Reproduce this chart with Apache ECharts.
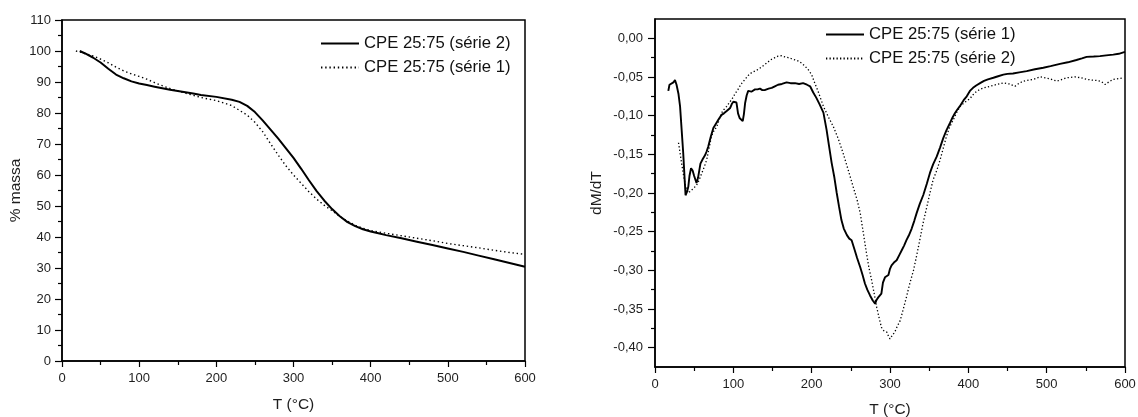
<!DOCTYPE html>
<html>
<head>
<meta charset="utf-8">
<script src="https://cdn.jsdelivr.net/npm/echarts@6/dist/echarts.min.js"></script>
<style>
html,body{margin:0;padding:0;background:#fff;}
#left{position:absolute;left:0;top:0;width:569px;height:417px;}
#right{position:absolute;left:569px;top:0;width:569px;height:417px;}
</style>
</head>
<body>
<div id="left"></div>
<div id="right"></div>
<script>
// ---- Left chart (TGA, % massa) ----
var tgaSolidName = 'CPE 25:75 (série 2)';
var tgaSolidT = [23,30,40,50,60,70,80,90,100,110,120,130,140,150,160,170,180,200,220,230,240,250,260,270,280,290,300,310,320,330,340,350,360,370,380,390,400,410,420,440,460,480,500,520,540,560,580,600];
var tgaSolidM = [100,99.2,97.9,96.3,94.3,92.4,91.2,90.2,89.5,89,88.5,88,87.5,87.1,86.7,86.3,85.8,85.2,84.3,83.6,82.3,80.3,77.6,74.7,71.8,68.7,65.5,62,58.3,54.8,51.7,49,46.7,44.8,43.5,42.5,41.8,41.2,40.6,39.6,38.5,37.4,36.3,35.2,34,32.8,31.6,30.4];
var tgaDotName = 'CPE 25:75 (série 1)';
var tgaDotT = [18,30,40,50,60,70,80,90,100,110,120,130,140,150,160,170,180,200,220,240,250,260,270,280,290,300,310,320,330,340,350,360,370,380,390,400,420,440,460,480,500,520,540,560,580,600];
var tgaDotM = [100,99.2,98.4,97.4,96.2,94.8,93.6,92.6,91.8,90.9,89.8,88.8,87.9,87.1,86.4,85.7,85,84,82.4,79.3,77,74,70.2,66.5,63,60,57.3,54.6,52.2,50.2,48.5,46.6,45.1,43.8,42.8,42.1,41.2,40.4,39.6,38.8,37.9,37.2,36.5,35.7,35,34.4];

// ---- Right chart (DTG, dM/dT) ----
var dtgSolidName = 'CPE 25:75 (série 1)';
var dtgSolidT = [17,18.5,21,23.5,25.5,27.5,30,32,34,36,38,39,41,42.5,44,46,48,50,53,55,58,61,64,66,68,71,74.5,78,81,85,88,91.5,94,96,98,100,102,104,106,108,110,112,113.5,115,117,119,121,123,125,127.7,131,134,137,140,145,149,153,157,162,168,173,178.7,184,189,194,198,202,206,210,215,219,222,225.5,229,232,235,238,241,245,248,251,255,258,262,265,268,271,274.5,278,281,283,285,287,289,291,293.6,296,298,300,302,305,308.5,312,315,318,321,324,327.7,331,334,338,342.5,347,351,355,359.6,364,368,372,376.6,380,383,386,389,394,398,402,406,410,415,420,425,432,438,444.7,450,457,465,474.5,485,495.7,505,517,527,538,545,551,560,568,576,585,592,600];
var dtgSolidV = [-0.068,-0.060,-0.060,-0.057,-0.054,-0.060,-0.072,-0.088,-0.118,-0.148,-0.185,-0.203,-0.198,-0.192,-0.178,-0.168,-0.171,-0.178,-0.187,-0.180,-0.162,-0.156,-0.151,-0.146,-0.140,-0.128,-0.116,-0.110,-0.105,-0.099,-0.097,-0.094,-0.092,-0.090,-0.085,-0.082,-0.081,-0.083,-0.097,-0.103,-0.105,-0.107,-0.098,-0.084,-0.074,-0.068,-0.070,-0.069,-0.071,-0.066,-0.066,-0.065,-0.067,-0.067,-0.065,-0.064,-0.062,-0.060,-0.059,-0.057,-0.058,-0.058,-0.059,-0.058,-0.060,-0.062,-0.070,-0.077,-0.085,-0.096,-0.118,-0.138,-0.161,-0.180,-0.200,-0.218,-0.235,-0.246,-0.2545,-0.259,-0.261,-0.274,-0.284,-0.296,-0.306,-0.317,-0.325,-0.3325,-0.339,-0.343,-0.338,-0.335,-0.334,-0.330,-0.316,-0.309,-0.308,-0.306,-0.298,-0.2935,-0.290,-0.287,-0.280,-0.274,-0.268,-0.261,-0.255,-0.246,-0.236,-0.226,-0.214,-0.2026,-0.188,-0.174,-0.163,-0.153,-0.141,-0.129,-0.119,-0.1095,-0.102,-0.0965,-0.092,-0.088,-0.080,-0.075,-0.068,-0.064,-0.061,-0.058,-0.055,-0.053,-0.051,-0.049,-0.047,-0.046,-0.0455,-0.044,-0.0424,-0.040,-0.038,-0.036,-0.033,-0.031,-0.028,-0.026,-0.024,-0.0235,-0.023,-0.022,-0.021,-0.020,-0.0175];
var dtgDotName = 'CPE 25:75 (série 2)';
var dtgDotT = [30,33,36,39,42.5,45,48,53,56,59.6,63,66,69,72,75,79,82,85,88,91.5,95,98,102,106,110,115,119,123,128,132,136,140,145,149,153,157,161,166,170,174.5,179,183,187,191.5,196,200,204,208,215,221,227.6,234,240,246,253,258,262,266,270,273,276.6,280,283,286,289,292,296,298,300,303,306,309,313,317,321,325,330,334,338,342,347,351,355,360,364,368,372,376,381,385,389.5,395,398,402,406,410.7,415,420,427.7,435,444.7,452,459.6,465,470,477,483,491.5,498,504,513,520,525.6,536,544,551,558,564,570,574.5,580,585,592,598];
var dtgDotV = [-0.135,-0.155,-0.1745,-0.192,-0.200,-0.198,-0.195,-0.190,-0.184,-0.1745,-0.166,-0.157,-0.142,-0.127,-0.120,-0.114,-0.105,-0.0965,-0.092,-0.088,-0.083,-0.079,-0.072,-0.066,-0.059,-0.053,-0.048,-0.0446,-0.042,-0.040,-0.037,-0.034,-0.030,-0.027,-0.025,-0.023,-0.0225,-0.024,-0.025,-0.0264,-0.028,-0.0294,-0.032,-0.036,-0.041,-0.047,-0.058,-0.068,-0.088,-0.101,-0.114,-0.130,-0.148,-0.168,-0.192,-0.209,-0.226,-0.252,-0.278,-0.296,-0.313,-0.331,-0.3476,-0.361,-0.3736,-0.378,-0.380,-0.385,-0.3887,-0.384,-0.380,-0.373,-0.365,-0.350,-0.3346,-0.318,-0.300,-0.281,-0.261,-0.240,-0.218,-0.200,-0.183,-0.170,-0.157,-0.142,-0.127,-0.115,-0.105,-0.096,-0.088,-0.083,-0.081,-0.078,-0.073,-0.0684,-0.066,-0.064,-0.062,-0.060,-0.0576,-0.059,-0.062,-0.058,-0.0554,-0.054,-0.053,-0.0498,-0.051,-0.0524,-0.0554,-0.053,-0.051,-0.0498,-0.051,-0.053,-0.054,-0.0545,-0.056,-0.0597,-0.056,-0.053,-0.052,-0.051];

// tick labels
var xTicks = [0,100,200,300,400,500,600];
var leftYMax = 110;
var rightYMajor = [-0.40,-0.35,-0.30,-0.25,-0.20,-0.15,-0.10,-0.05,0.00];
var rightYMinor = [-0.375,-0.325,-0.275,-0.225,-0.175,-0.125,-0.075,-0.025];

function pairs(xs, ys){ return xs.map(function(x,i){ return [x, ys[i]]; }); }

var FONT = "'Liberation Sans', Arial, Helvetica, sans-serif";
var INK = '#000';
var LABEL = '#1e1e1e';
var TICKFS = 13;
var NAMEFS = 15.5;

function xAxisCfg(nameGap){
  return {
    type:'value', min:xTicks[0], max:xTicks[xTicks.length-1], interval:100,
    axisLine:{show:true, onZero:false, lineStyle:{color:INK, width:1.5}},
    axisTick:{show:true, length:6, lineStyle:{color:INK, width:1.2}},
    minorTick:{show:true, splitNumber:2, length:4, lineStyle:{color:INK, width:1.2}},
    splitLine:{show:false}, minorSplitLine:{show:false},
    axisLabel:{margin:11, fontSize:TICKFS, color:LABEL, fontFamily:FONT},
    name:'T (°C)', nameLocation:'middle', nameGap:nameGap, nameMoveOverlap:false,
    nameTextStyle:{fontSize:NAMEFS, color:LABEL, fontFamily:FONT}
  };
}

function legendCfg(leftPx, topPx, names){
  return {
    orient:'vertical', left:leftPx, top:topPx, padding:0, itemWidth:38, itemHeight:14, itemGap:7,
    itemStyle:{opacity:0, borderWidth:0},
    textStyle:{fontSize:16.7, color:'#111', fontFamily:FONT},
    data:names
  };
}

var left = echarts.init(document.getElementById('left'), null, {renderer:'canvas'});
left.setOption({
  animation:false,
  textStyle:{fontFamily:FONT},
  grid:{left:62, right:44, top:20, bottom:56, outerBoundsMode:'none', containLabel:false, show:true, borderColor:INK, borderWidth:1.5, backgroundColor:'transparent'},
  legend:legendCfg(320, 35, [tgaSolidName, tgaDotName]),
  xAxis:xAxisCfg(36),
  yAxis:{
    type:'value', min:0, max:leftYMax, interval:10,
    axisLine:{show:true, onZero:false, lineStyle:{color:INK, width:1.5}},
    axisTick:{show:true, length:7, lineStyle:{color:INK, width:1.2}},
    minorTick:{show:true, splitNumber:2, length:4, lineStyle:{color:INK, width:1.2}},
    splitLine:{show:false}, minorSplitLine:{show:false},
    axisLabel:{margin:11, fontSize:TICKFS, color:LABEL, fontFamily:FONT},
    name:'% massa', nameLocation:'middle', nameGap:38, nameMoveOverlap:false,
    nameTextStyle:{fontSize:NAMEFS, color:LABEL, fontFamily:FONT}
  },
  series:[
    {name:tgaSolidName, type:'line', symbol:'none', showSymbol:false, data:pairs(tgaSolidT, tgaSolidM),
     lineStyle:{color:'#000', width:2}, itemStyle:{color:'#000'}, z:3},
    {name:tgaDotName, type:'line', symbol:'none', showSymbol:false, data:pairs(tgaDotT, tgaDotM),
     lineStyle:{color:'#000', width:1.4, type:[1.4,2.8]}, itemStyle:{color:'#000'}, z:2}
  ]
});

var right = echarts.init(document.getElementById('right'), null, {renderer:'canvas'});
right.setOption({
  animation:false,
  textStyle:{fontFamily:FONT},
  grid:{left:86, right:13, top:19, bottom:50, outerBoundsMode:'none', containLabel:false, show:true, borderColor:INK, borderWidth:1.5, backgroundColor:'transparent'},
  legend:legendCfg(256, 26, [dtgSolidName, dtgDotName]),
  xAxis:xAxisCfg(35),
  yAxis:[{
    type:'value', min:-0.425, max:0.025,
    axisLine:{show:true, onZero:false, lineStyle:{color:INK, width:1.5}},
    axisTick:{show:true, length:7, customValues:rightYMajor, lineStyle:{color:INK, width:1.2}},
    splitLine:{show:false},
    axisLabel:{margin:12, fontSize:TICKFS, color:LABEL, fontFamily:FONT, customValues:rightYMajor,
      formatter:function(v){ return (Math.abs(v)<1e-9?0:v).toFixed(2).replace('.', ','); }},
    name:'dM/dT', nameLocation:'middle', nameGap:50, nameMoveOverlap:false,
    nameTextStyle:{fontSize:NAMEFS, color:LABEL, fontFamily:FONT}
  },{
    type:'value', min:-0.425, max:0.025, position:'left',
    axisLine:{show:false},
    axisTick:{show:true, length:4, customValues:rightYMinor, lineStyle:{color:INK, width:1.2}},
    axisLabel:{show:false}, splitLine:{show:false}
  }],
  series:[
    {name:dtgSolidName, type:'line', symbol:'none', showSymbol:false, data:pairs(dtgSolidT, dtgSolidV),
     lineStyle:{color:'#000', width:1.9}, itemStyle:{color:'#000'}, z:3},
    {name:dtgDotName, type:'line', symbol:'none', showSymbol:false, data:pairs(dtgDotT, dtgDotV),
     lineStyle:{color:'#000', width:1.3, type:[1.3,2.2]}, itemStyle:{color:'#000'}, z:2}
  ]
});
</script>
</body>
</html>
